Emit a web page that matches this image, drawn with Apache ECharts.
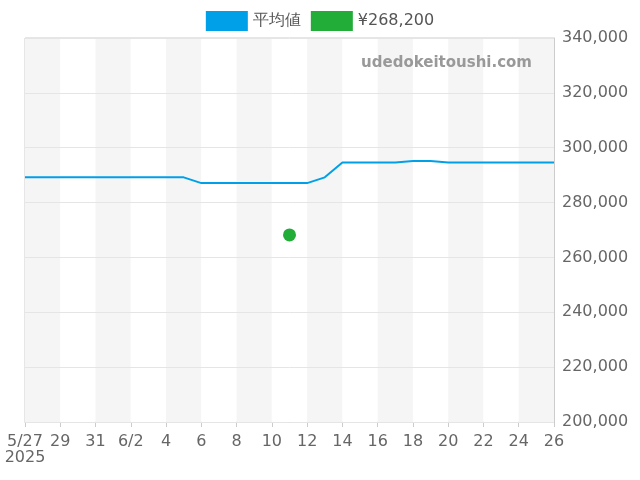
<!DOCTYPE html>
<html><head><meta charset="utf-8">
<script src="https://cdn.jsdelivr.net/npm/echarts@6/dist/echarts.min.js"></script>
<style>html,body{margin:0;padding:0}#c{width:640px;height:480px}</style>
</head><body><div id="c"></div>
<script>
const dates = ['5/27','5/28','5/29','5/30','5/31','6/1','6/2','6/3','6/4','6/5','6/6','6/7','6/8','6/9','6/10','6/11','6/12','6/13','6/14','6/15','6/16','6/17','6/18','6/19','6/20','6/21','6/22','6/23','6/24','6/25','6/26'];
const avgValues = [289200,289200,289200,289200,289200,289200,289200,289200,289200,289200,287100,287100,287100,287100,287100,287100,287100,289200,294600,294600,294600,294600,295200,295200,294600,294600,294600,294600,294600,294600,294600];
const pointValues = dates.map(d => d === '6/11' ? 268200 : null);
const seriesNames = ['平均値','¥268,200'];
const chart = echarts.init(document.getElementById('c'));
chart.setOption({
  animation:false,
  textStyle:{fontFamily:'DejaVu Sans'},
  legend:{top:6,left:'center',itemWidth:42,itemHeight:20,itemGap:10,icon:'rect',
    textStyle:{fontSize:16,color:'#555'},data:seriesNames},
  graphic:[{type:'text',z:100,right:108,top:56,style:{text:'udedokeitoushi.com',fontSize:15,fontWeight:'bold',fill:'#999',fontFamily:'DejaVu Sans'}}],
  grid:{left:25,right:86,top:38,bottom:58,show:true,borderColor:'#ccc',borderWidth:1},
  xAxis:{type:'category',data:dates,boundaryGap:false,z:0,
    axisLine:{lineStyle:{color:'#ccc'}},axisTick:{show:true,interval:1,lineStyle:{color:'#ccc'}},
    axisLabel:{interval:1,fontSize:16,color:'#666',margin:12,formatter:(v,i)=>{
      if(i===0) return '5/27\n2025';
      const [m,d]=v.split('/'); return d==='1'||d==='2'&&m==='6'?v:d;}},
    splitArea:{show:true,interval:1,areaStyle:{color:['#f5f5f5','#ffffff']}},
    splitLine:{show:false}},
  yAxis:{type:'value',position:'right',min:200000,max:340000,interval:20000,z:2,
    axisLine:{show:true,lineStyle:{color:'#ccc'}},
    axisLabel:{fontSize:16,color:'#666',formatter:v=>v.toLocaleString('en-US')},
    splitLine:{lineStyle:{color:'#e5e5e5'}}},
  series:[
    {name:seriesNames[0],type:'line',data:avgValues,showSymbol:false,symbol:'none',color:'#00a0e9',lineStyle:{width:2},z:5},
    {name:seriesNames[1],type:'scatter',data:pointValues,symbolSize:13,color:'#22ac38',itemStyle:{opacity:1},z:6}
  ]
});
</script></body></html>
